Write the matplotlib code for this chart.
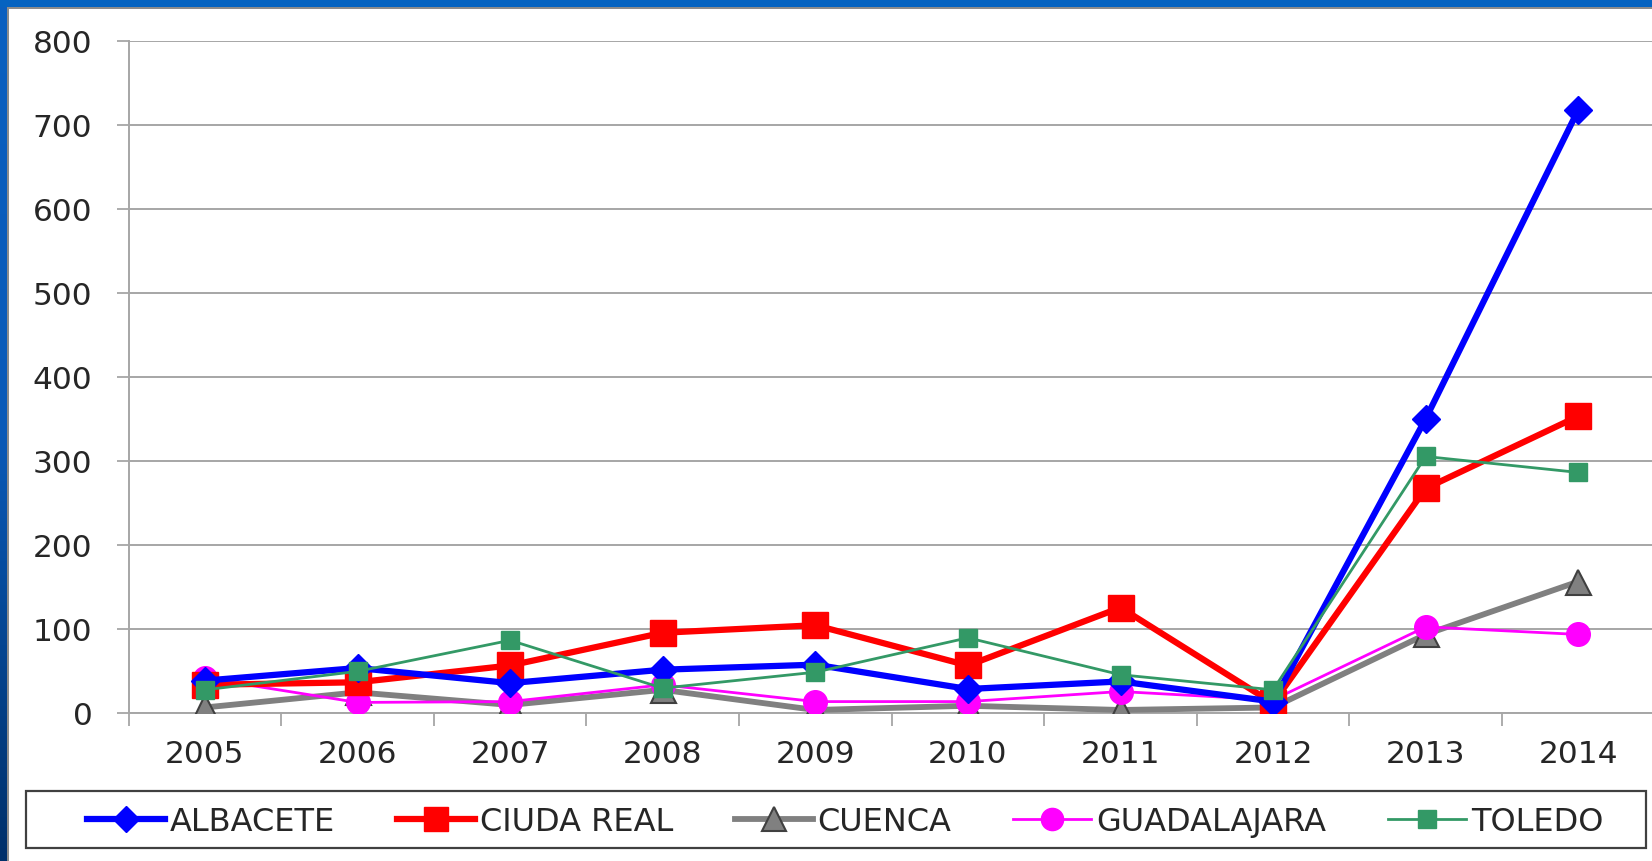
import matplotlib
matplotlib.use("Agg")
import matplotlib.pyplot as plt
from matplotlib.patches import Rectangle
from matplotlib.lines import Line2D
import numpy as np

years = ["2005", "2006", "2007", "2008", "2009", "2010", "2011", "2012", "2013", "2014"]
albacete = [38, 53, 35, 51, 57, 28, 37, 13, 350, 718]
ciudad_real = [33, 36, 56, 95, 104, 56, 125, 11, 267, 353]
cuenca = [6, 24, 9, 27, 3, 8, 3, 6, 93, 156]
guadalajara = [41, 12, 13, 33, 13, 13, 25, 15, 102, 93]
toledo = [27, 49, 86, 29, 48, 89, 45, 27, 305, 286]
yticks = [0, 100, 200, 300, 400, 500, 600, 700, 800]

plt.rcParams['font.family'] = ['DejaVu Sans']

W, H = 1652, 862
fig = plt.figure(figsize=(W / 100, H / 100), dpi=100)
fig.patch.set_facecolor('white')

# slide frame (blue band top/left)
fig.patches.append(Rectangle((0, 1 - 8 / H), 1, 8 / H, transform=fig.transFigure,
                             facecolor='#0563C1', edgecolor='none', zorder=0))
grad = np.linspace(0, 1, 256).reshape(-1, 1)
bax = fig.add_axes([0, 0, 7 / W, 1])
bax.imshow(grad, aspect='auto', cmap=matplotlib.colors.LinearSegmentedColormap.from_list(
    'b', ['#0A60C0', '#0A5AB8', '#00306A']), extent=[0, 1, 0, 1], origin='upper')
bax.axis('off')
fig.patches.append(Rectangle((7 / W, 0), 2 / W, 1 - 8 / H, transform=fig.transFigure,
                             facecolor='#8C8C8C', edgecolor='none', zorder=1))
fig.patches.append(Rectangle((7 / W, 1 - 10 / H), 1, 2 / H, transform=fig.transFigure,
                             facecolor='#8C8C8C', edgecolor='none', zorder=1))

left, right, top, bottom = 128.6, 1654.6, 42.0, 713.5
ax = fig.add_axes([left / W, 1 - bottom / H, (right - left) / W, (bottom - top) / H])
ax.set_facecolor('white')

x = np.arange(len(years))
ax.plot(x, toledo, color='#339966', lw=2.0, marker='s', ms=13, mec='#339966', mfc='#339966',
        label='TOLEDO', zorder=5)
ax.plot(x, cuenca, color='#808080', lw=4.2, marker='^', ms=18, mfc='#808080', mec='#404040',
        mew=1.5, label='CUENCA', zorder=3)
ax.plot(x, guadalajara, color='#FF00FF', lw=2.0, marker='o', ms=17, mfc='#FF00FF', mec='#FF00FF',
        label='GUADALAJARA', zorder=4)
ax.plot(x, ciudad_real, color='#FF0000', lw=4.5, marker='s', ms=19, mfc='#FF0000', mec='#FF0000',
        label='CIUDA REAL', zorder=4)
ax.plot(x, albacete, color='#0000FF', lw=4.5, marker='D', ms=14, mfc='#0000FF', mec='#0000FF',
        label='ALBACETE', zorder=4)

ax.set_xlim(-0.5, len(years) - 0.5)
ax.set_ylim(0, 800)
ax.set_yticks(yticks)
ax.set_yticklabels([str(v) for v in yticks])
ax.yaxis.grid(True, color='#A6A6A6', lw=1.4)
ax.set_axisbelow(True)
ax.set_xticks(np.arange(-0.5, len(years), 1.0))
ax.set_xticklabels([])
ax.set_xticks(x, minor=True)
ax.set_xticklabels(years, minor=True)
ax.tick_params(axis='x', which='major', length=9, width=1.3, color='#A6A6A6', direction='out')
ax.tick_params(axis='x', which='minor', length=0, pad=19, labelsize=22.5, labelcolor='#262626')
ax.tick_params(axis='y', length=9, width=1.3, color='#A6A6A6', pad=17, labelsize=22.5,
               labelcolor='#262626')
for s in ['top', 'right']:
    ax.spines[s].set_visible(False)
for s in ['left', 'bottom']:
    ax.spines[s].set_color('#A6A6A6')
    ax.spines[s].set_linewidth(1.4)

# legend frame
lx0, lx1, ly0, ly1 = 26, 1646, 792, 849
fig.patches.append(Rectangle((lx0 / W, 1 - ly1 / H), (lx1 - lx0) / W, (ly1 - ly0) / H,
                             transform=fig.transFigure, facecolor='white',
                             edgecolor='#404040', lw=1.6, zorder=2))

handles = [
    Line2D([], [], color='#0000FF', lw=4.5, marker='D', ms=13, mfc='#0000FF', mec='#0000FF'),
    Line2D([], [], color='#FF0000', lw=4.5, marker='s', ms=17, mfc='#FF0000', mec='#FF0000'),
    Line2D([], [], color='#808080', lw=4.2, marker='^', ms=17, mfc='#808080', mec='#404040', mew=1.5),
    Line2D([], [], color='#FF00FF', lw=2.0, marker='o', ms=16, mfc='#FF00FF', mec='#FF00FF'),
    Line2D([], [], color='#339966', lw=2.0, marker='s', ms=13, mfc='#339966', mec='#339966'),
]
labels = ['ALBACETE', 'CIUDA REAL', 'CUENCA', 'GUADALAJARA', 'TOLEDO']
ix0, ix1 = 87, 1603
leg = fig.legend(handles, labels, loc='center', ncol=5,
                 bbox_to_anchor=(ix0 / W, 1 - (ly1 + 2) / H, (ix1 - ix0) / W, (ly1 - ly0) / H),
                 mode='expand', fontsize=23, handlelength=2.45, handletextpad=0.15,
                 columnspacing=1.0, frameon=False, borderaxespad=0,
                 borderpad=0, labelcolor='#262626')
leg.set_zorder(3)

fig.savefig('out.png', dpi=100, facecolor='white')
